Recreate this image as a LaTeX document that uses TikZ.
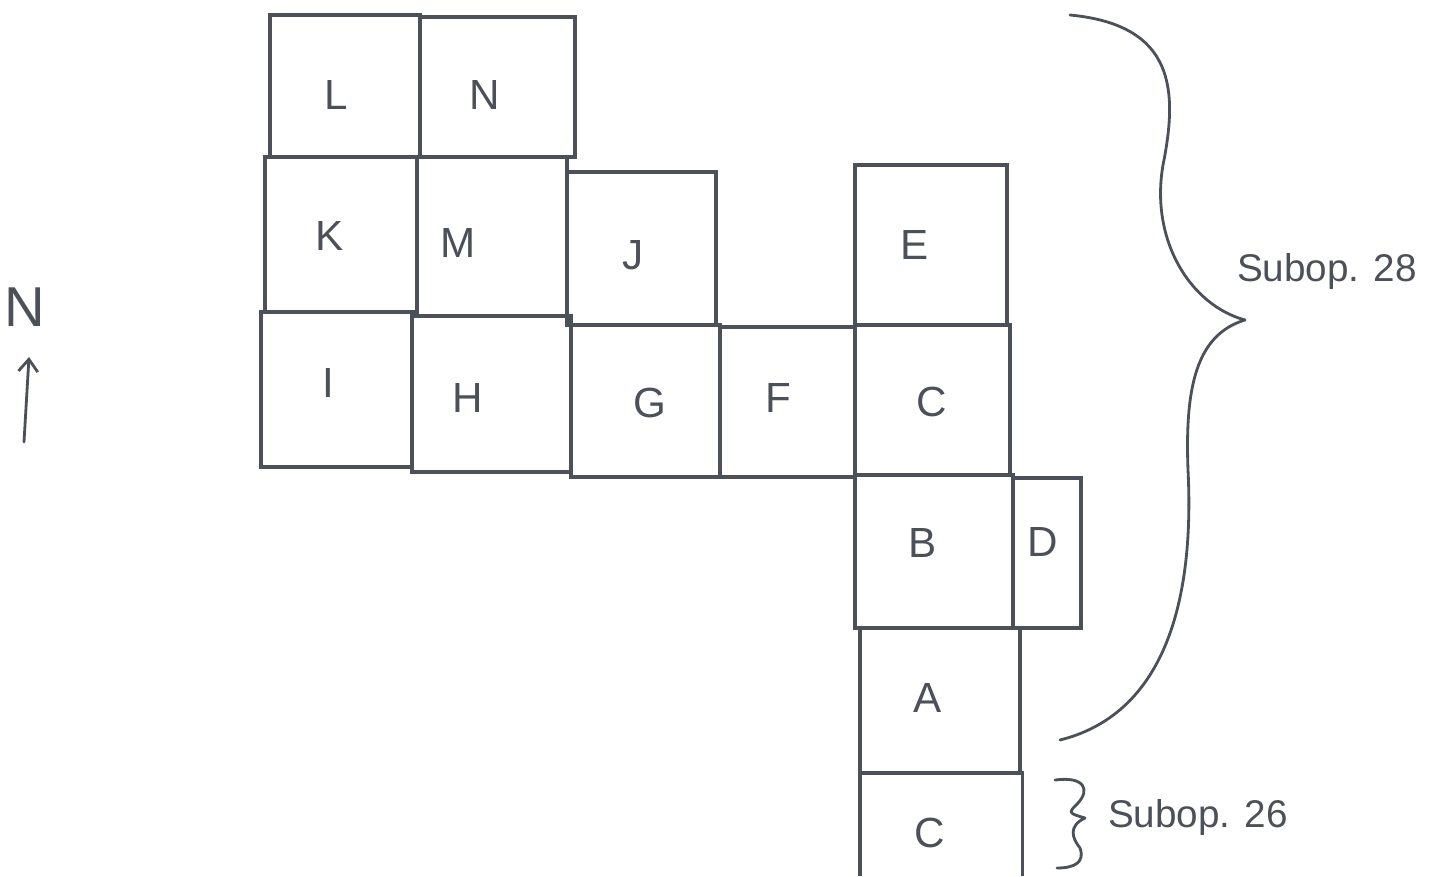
\documentclass[tikz,border=0pt]{standalone}
\usepackage{fontspec}
\setmainfont{Liberation Sans}
\usetikzlibrary{fit,arrows.meta}
\definecolor{pen}{HTML}{4C5058}
\begin{document}
\begin{tikzpicture}[x=0.02cm,y=-0.02cm,
  cellbox/.style={draw=pen, line width=2.1pt, inner sep=0pt, rectangle},
  ghost/.style={inner sep=0pt, rectangle},
  lbl/.style={text=pen, font=\fontsize{24}{28}\selectfont, inner sep=0pt},
  sub/.style={text=pen, font=\fontsize{22}{26}\selectfont, inner sep=0pt},
  penline/.style={draw=pen, line width=1.6pt, line cap=round, line join=round}]
\useasboundingbox (0,0) rectangle (1429,876);
% cells
\node[cellbox, fit={(270,15)(420,157)}] (cL) {};
\node[cellbox, fit={(420,17)(575,157)}] (cN) {};
\node[cellbox, fit={(265,157)(417,312)}] (cK) {};
\node[cellbox, fit={(417,157)(567,316)}] (cM) {};
\node[cellbox, fit={(567,172)(716,325)}] (cJ) {};
\node[cellbox, fit={(261,312)(412,467)}] (cI) {};
\node[cellbox, fit={(412,316)(571,472)}] (cH) {};
\node[cellbox, fit={(571,325)(720,477)}] (cG) {};
\node[cellbox, fit={(720,327)(855,477)}] (cF) {};
\node[cellbox, fit={(855,165)(1007,325)}] (cE) {};
\node[cellbox, fit={(855,325)(1010,475)}] (cC) {};
\node[cellbox, fit={(855,475)(1013,628)}] (cB) {};
\node[cellbox, fit={(1013,478)(1081,628)}] (cD) {};
\node[cellbox, fit={(860,628)(1020,773)}] (cA) {};
\node[ghost, fit={(860,773)(1022,876)}] (cC2) {};
\draw[draw=pen, line width=2.1pt] (cC2.south west) -- (cC2.north west) -- (cC2.north east) -- (cC2.south east);
% labels
\node[lbl] (tL) at (336,95) {L};
\node[lbl] (tN) at (485,95) {N};
\node[lbl] (tK) at (330,236) {K};
\node[lbl] (tM) at (458,243) {M};
\node[lbl] (tJ) at (633,255) {J};
\node[lbl] (tE) at (915,245) {E};
\node[lbl] (tI) at (328,383) {I};
\node[lbl] (tH) at (468,398) {H};
\node[lbl] (tG) at (650,403) {G};
\node[lbl] (tF) at (778,398) {F};
\node[lbl] (tC) at (932,402) {C};
\node[lbl] (tB) at (923,543) {B};
\node[lbl] (tD) at (1043,542) {D};
\node[lbl] (tA) at (928,698) {A};
\node[lbl] (tC2) at (930,833) {C};
% north arrow
\node[text=pen, font=\fontsize{32}{38}\selectfont, inner sep=0pt] (north) at (25,307) {N};
\coordinate (arrS) at (24,442);
\coordinate (arrE) at (29,357);
\draw[penline, -{Straight Barb[length=7pt,width=11pt]}] (arrS) -- (arrE);
% big brace
\coordinate (b1) at (1070,15);
\coordinate (btip) at (1245,320);
\coordinate (b2) at (1060,740);
\draw[penline] (b1) .. controls (1175,25) and (1178,90) .. (1163,165)
  .. controls (1150,240) and (1190,305) .. (btip)
  .. controls (1195,335) and (1185,390) .. (1188,470)
  .. controls (1195,610) and (1160,715) .. (b2);
\node[sub] (s28) at (1327,272) {Subop. 28};
% small brace
\coordinate (sb1) at (1055,780);
\coordinate (sb2) at (1057,868);
\draw[penline] (sb1) .. controls (1085,776) and (1090,790) .. (1078,803)
  .. controls (1068,813) .. (1085,818)
  .. controls (1068,826) and (1072,838) .. (1080,848)
  .. controls (1085,862) and (1075,868) .. (sb2);
\node[sub] (s26) at (1198,817) {Subop. 26};
\end{tikzpicture}
\end{document}
